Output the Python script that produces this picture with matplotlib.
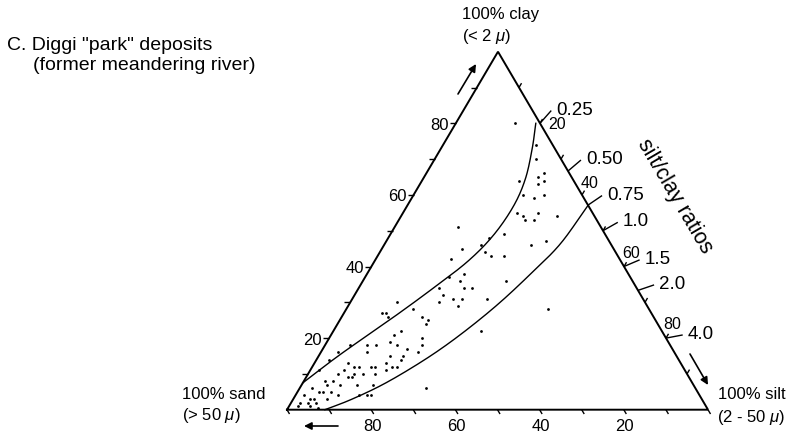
import numpy as np
import matplotlib.pyplot as plt

plt.rcParams['font.family'] = ['Liberation Sans', 'DejaVu Sans']
plt.rcParams['mathtext.fontset'] = 'custom'
plt.rcParams['mathtext.it'] = 'Liberation Sans:italic'
plt.rcParams['mathtext.rm'] = 'Liberation Sans'

# samples: percent silt and percent clay (sand is the rest)
silt = [14, 22, 24, 27, 28, 29, 28, 31, 26, 29, 27, 29, 30, 32, 32, 37, 23, 27,
        35, 38, 48, 35, 30,
        15, 24, 23, 19, 25, 27, 30, 18, 23, 20, 23, 19, 25, 27, 34, 21, 21, 24, 26, 26, 32,
        11, 16, 9, 10, 11, 19, 21, 21, 16, 15, 22, 23, 15, 17, 12, 20, 23, 20, 17, 20,
        14, 15, 17, 19, 20, 18, 16,
        11, 6, 4, 3, 2,
        8, 8, 10, 11, 7, 10, 13, 5, 7, 6, 9, 13, 6, 5, 8, 15, 17, 18, 2, 4, 5, 2, 4, 6,
        8, 2, 5, 7, 3, 10, 11, 11, 17, 10]
clay = [80, 74, 70, 65, 66, 64, 63, 60, 60, 59, 55, 54, 53, 53, 55, 54, 64, 49,
        46, 47, 28, 22, 6,
        51, 48, 46, 45, 44, 43, 43, 42, 38, 37, 36, 34, 34, 34, 36, 32, 30, 31, 31, 29, 31,
        30, 28, 27, 27, 26, 26, 25, 24, 22, 21, 20, 18, 19, 18, 18, 17, 16, 15, 15, 14,
        12, 12, 13, 12, 12, 11, 10,
        16, 18, 16, 14, 11,
        13, 11, 12, 10, 10, 9, 10, 8, 8, 7, 7, 7, 5, 5, 5, 4, 4, 4, 4, 3, 3, 2, 2, 2,
        3, 1, 1, 0.5, 6, 4, 9, 12, 7, 18]

# boundary curves (silt %, clay %)
upper_silt = [0, 4.9, 11.9, 17.3, 22.1, 24.6, 25.3, 24.3, 21.7, 19]
upper_clay = [7.5, 15.4, 25.2, 33.3, 41.3, 48.7, 56.9, 64.5, 72.9, 80]
lower_silt = [9, 13.6, 18.8, 23.5, 27.9, 31.9, 35.6, 38.8, 41.7, 42.9]
lower_clay = [0, 2.7, 6.65, 11.4, 16.8, 23.0, 30.0, 37.8, 46.3, 57.1]

pct_labels = [20, 40, 60, 80]
ratios = [0.25, 0.50, 0.75, 1.0, 1.5, 2.0, 4.0]
ratio_labels = ['0.25', '0.50', '0.75', '1.0', '1.5', '2.0', '4.0']

# triangle corners in figure pixels
SAND = np.array([287.0, 410.7])
SILT = np.array([708.0, 410.7])
CLAY = np.array([498.0, 52.7])


def tern(s, c):
    s = np.asarray(s, float) / 100
    c = np.asarray(c, float) / 100
    x = SAND[0] + s * (SILT[0] - SAND[0]) + c * (CLAY[0] - SAND[0])
    y = SAND[1] + s * (SILT[1] - SAND[1]) + c * (CLAY[1] - SAND[1])
    return x, y


def smooth(x, y, n=20):
    # catmull-rom through the read points
    P = np.column_stack([x, y])
    P = np.vstack([2 * P[0] - P[1], P, 2 * P[-1] - P[-2]])
    t = np.linspace(0, 1, n, endpoint=False)[:, None]
    out = []
    for i in range(1, len(P) - 2):
        p0, p1, p2, p3 = P[i - 1], P[i], P[i + 1], P[i + 2]
        out.append(0.5 * (2 * p1 + (-p0 + p2) * t + (2 * p0 - 5 * p1 + 4 * p2 - p3) * t ** 2
                          + (-p0 + 3 * p1 - 3 * p2 + p3) * t ** 3))
    out.append(P[-2][None])
    out = np.vstack(out)
    return out[:, 0], out[:, 1]


def unit(v):
    v = np.asarray(v, float)
    return v / np.hypot(*v)


fig = plt.figure(figsize=(8, 4.39), dpi=100)
ax = fig.add_axes([0, 0, 1, 1])
ax.set_xlim(0, 800)
ax.set_ylim(439, 0)
ax.axis('off')

k = dict(color='black', lw=1.0, solid_capstyle='butt')

# frame
tx, ty = tern([0, 100, 0, 0], [0, 0, 100, 0])
ax.plot(tx, ty, color='black', lw=1.4, solid_joinstyle='miter')

# bottom ticks (sand)
d_bot = unit(SILT - CLAY)
for v in range(0, 101, 10):
    x, y = tern(100 - v, 0)
    ax.plot([x, x + 5 * d_bot[0]], [y, y + 5 * d_bot[1]], **k)
    if v in pct_labels:
        ax.text(x + 1, 427, str(v), ha='center', va='center', fontsize=12)

# left ticks (clay)
for v in range(10, 100, 10):
    x, y = tern(0, v)
    ax.plot([x, x - 6], [y, y], **k)
    if v in pct_labels:
        ax.text(x - 7, y + 1, str(v), ha='right', va='center', fontsize=12)

# right ticks (silt)
d_right = unit(CLAY - SAND)
for v in range(10, 100, 10):
    x, y = tern(v, 100 - v)
    ax.plot([x, x + 5 * d_right[0]], [y, y + 5 * d_right[1]], **k)
pct_off = {20: (8, 8), 40: (-1, -5), 60: (-2, -6), 80: (-3, -7)}
for v in pct_labels:
    x, y = tern(v, 100 - v)
    dx, dy = pct_off[v]
    ax.text(x + dx, y + dy, str(v), ha='left', va='bottom', fontsize=11.5)

# silt/clay ratio rays from the sand corner
for r, lab in zip(ratios, ratio_labels):
    s = 100 * r / (1 + r)
    x, y = tern(s, 100 - s)
    d = unit(np.array([x, y]) - SAND)
    ex, ey = x + 17 * d[0], y + 17 * d[1]
    ax.plot([x, ex], [y, ey], **k)
    ax.text(ex + 5, ey - 1.5, lab, ha='left', va='center', fontsize=13.5)

ax.text(675, 196, 'silt/clay ratios', rotation=-59.5, rotation_mode='anchor',
        ha='center', va='center', fontsize=15.5)

# boundary curves
ux, uy = smooth(*tern(upper_silt, upper_clay))
lx, ly = smooth(*tern(lower_silt, lower_clay))
ax.plot(ux, uy, color='black', lw=1.0)
ax.plot(lx, ly, color='black', lw=1.0)

# samples
px, py = tern(silt, clay)
ax.scatter(px, py, s=4, c='black', linewidths=0, zorder=3)

# arrows
ap = dict(arrowstyle='-|>', color='black', lw=1.2, mutation_scale=11, shrinkA=0, shrinkB=0)
ax.annotate('', xy=(476, 65), xytext=(458, 95), arrowprops=ap)
ax.annotate('', xy=(708, 386), xytext=(690, 355), arrowprops=ap)
ax.annotate('', xy=(304, 427), xytext=(338, 427), arrowprops=ap)

# corner and title texts
ax.text(462, 15, '100% clay', ha='left', va='center', fontsize=12)
ax.text(462, 37, '(< 2 $\\mu$)', ha='left', va='center', fontsize=12)
ax.text(182, 395, '100% sand', ha='left', va='center', fontsize=12)
ax.text(182, 416, '(> 50 $\\mu$)', ha='left', va='center', fontsize=12)
ax.text(718, 395, '100% silt', ha='left', va='center', fontsize=12)
ax.text(717, 418, '(2 - 50 $\\mu$)', ha='left', va='center', fontsize=12)
ax.text(7, 45, 'C. Diggi "park" deposits', ha='left', va='center', fontsize=14)
ax.text(33, 65, '(former meandering river)', ha='left', va='center', fontsize=14)

fig.savefig('out.png', dpi=100)
